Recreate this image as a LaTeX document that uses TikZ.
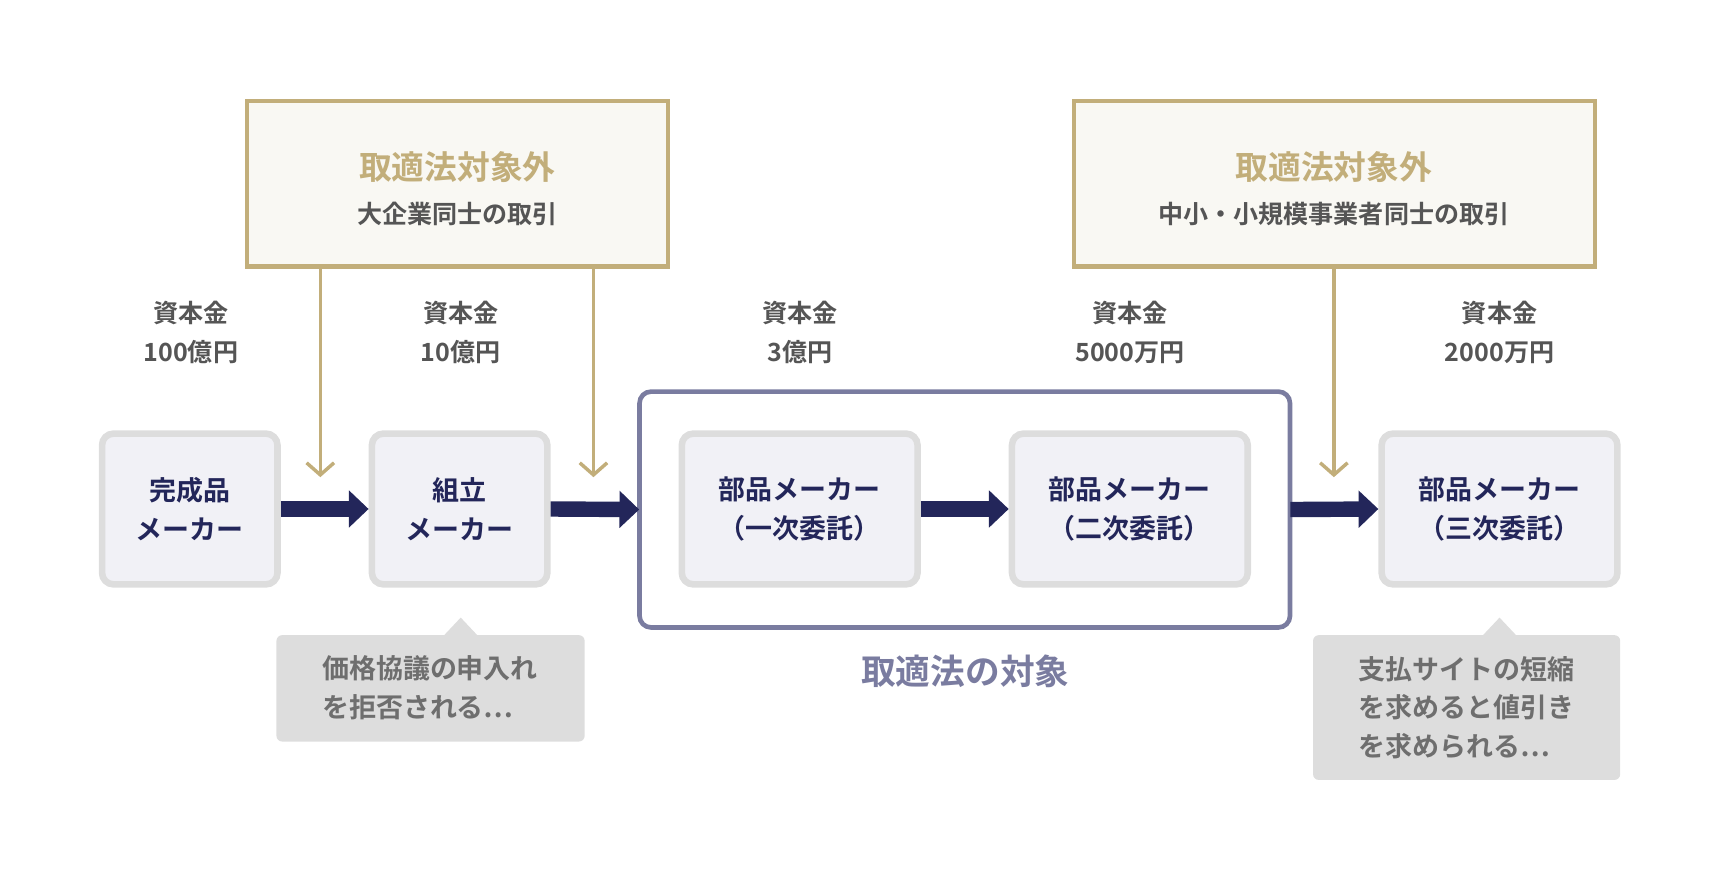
\documentclass[tikz,border=0pt]{standalone}
\usepackage{fontspec}
\setmainfont{Noto Sans CJK JP}[BoldFont={* Bold}]
\usetikzlibrary{arrows.meta, positioning}
\definecolor{gold}{HTML}{C2AE7A}
\definecolor{goldbg}{HTML}{F9F8F3}
\definecolor{navy}{HTML}{23265A}
\definecolor{lav}{HTML}{7A7CA0}
\definecolor{boxbg}{HTML}{F1F1F6}
\definecolor{boxln}{HTML}{DDDDDD}
\definecolor{txt}{HTML}{555555}
\tikzset{
  firm/.style={draw=boxln, line width=3.4pt, fill=boxbg, rounded corners=6pt, text=navy,
               font=\fontsize{14}{20}\selectfont\bfseries, align=center},
  capital/.style={text=txt, font=\fontsize{13}{20.5}\selectfont\bfseries, align=center},
  note/.style={text=txt!85, font=\fontsize{14}{20}\selectfont\bfseries, align=left},
  flow/.style={draw=navy, line width=8pt, -{Triangle[length=0.36cm,width=0.66cm]}},
  drop/.style={draw=gold, line width=1.8pt, -{Straight Barb[length=0.22cm,width=0.5cm]}}
}
\begin{document}
\begin{tikzpicture}[x=0.02cm, y=-0.02cm]
\useasboundingbox (0,0) rectangle (1568,802);

% excluded boxes
\draw[gold, line width=2.2pt, fill=goldbg] (225,92) rectangle (609,243);
\draw[gold, line width=2.2pt, fill=goldbg] (979,92) rectangle (1454,243);
\node (gl) at (417,167.5) [minimum width=7.68cm, minimum height=3.02cm] {};
\node (gr) at (1216.5,167.5) [minimum width=9.5cm, minimum height=3.02cm] {};
\node[text=gold, font=\fontsize{17}{20}\selectfont\bfseries] (glt) at (417,152) {取適法対象外};
\node[capital] (gls) at (417,195) {大企業同士の取引};
\node[text=gold, font=\fontsize{17}{20}\selectfont\bfseries] (grt) at (1216,152) {取適法対象外};
\node[capital] (grs) at (1216,195) {中小・小規模事業者同士の取引};

% capital
\node[capital] (k1) at (174,303) {資本金\\100億円};
\node[capital] (k2) at (420,303) {資本金\\10億円};
\node[capital] (k3) at (729,303) {資本金\\3億円};
\node[capital] (k4) at (1030,303) {資本金\\5000万円};
\node[capital] (k5) at (1367,303) {資本金\\2000万円};

% target frame
\draw[lav, line width=2.4pt, rounded corners=6pt] (583,357) rectangle (1176,572);
\node (tgt) at (879.5,464.5) [minimum width=11.86cm, minimum height=4.3cm] {};
\node[text=lav, font=\fontsize{18}{20}\selectfont\bfseries] (tgl) at (880,612) {取適法の対象};

% firms
\node[firm, minimum width=3.2cm, minimum height=2.75cm] (m1) at (173,464) {完成品\\メーカー};
\node[firm, minimum width=3.2cm, minimum height=2.75cm] (m2) at (419,464) {組立\\メーカー};
\node[firm, minimum width=4.3cm, minimum height=2.75cm] (m3) at (729,464) {部品メーカー\\（一次委託）};
\node[firm, minimum width=4.3cm, minimum height=2.75cm] (m4) at (1030,464) {部品メーカー\\（二次委託）};
\node[firm, minimum width=4.3cm, minimum height=2.75cm] (m5) at (1367,464) {部品メーカー\\（三次委託）};

\draw[flow] (m1.east) -- (m2.west);
\draw[flow] (m2.east) -- (tgt.west);
\draw[flow] (m3.east) -- (m4.west);
\draw[flow] (tgt.east) -- (m5.west);

\coordinate (d1) at (292,435);
\coordinate (d2) at (541,435);
\coordinate (d3) at (1216,435);
\draw[drop] (d1 |- gl.south) -- (d1);
\draw[drop] (d2 |- gl.south) -- (d2);
\draw[drop] (d3 |- gr.south) -- (d3);

% callouts
\fill[boxln, rounded corners=3pt] (252,579) rectangle (533,676);
\fill[boxln] (404,580) -- (420,563) -- (436,580) -- cycle;
\node[note] (n1) at (392,627) {価格協議の申入れ\\を拒否される…};
\fill[boxln, rounded corners=3pt] (1197,579) rectangle (1477,711);
\fill[boxln] (1351,580) -- (1367,563) -- (1383,580) -- cycle;
\node[note] (n2) at (1337,645) {支払サイトの短縮\\を求めると値引き\\を求められる…};
\end{tikzpicture}
\end{document}
